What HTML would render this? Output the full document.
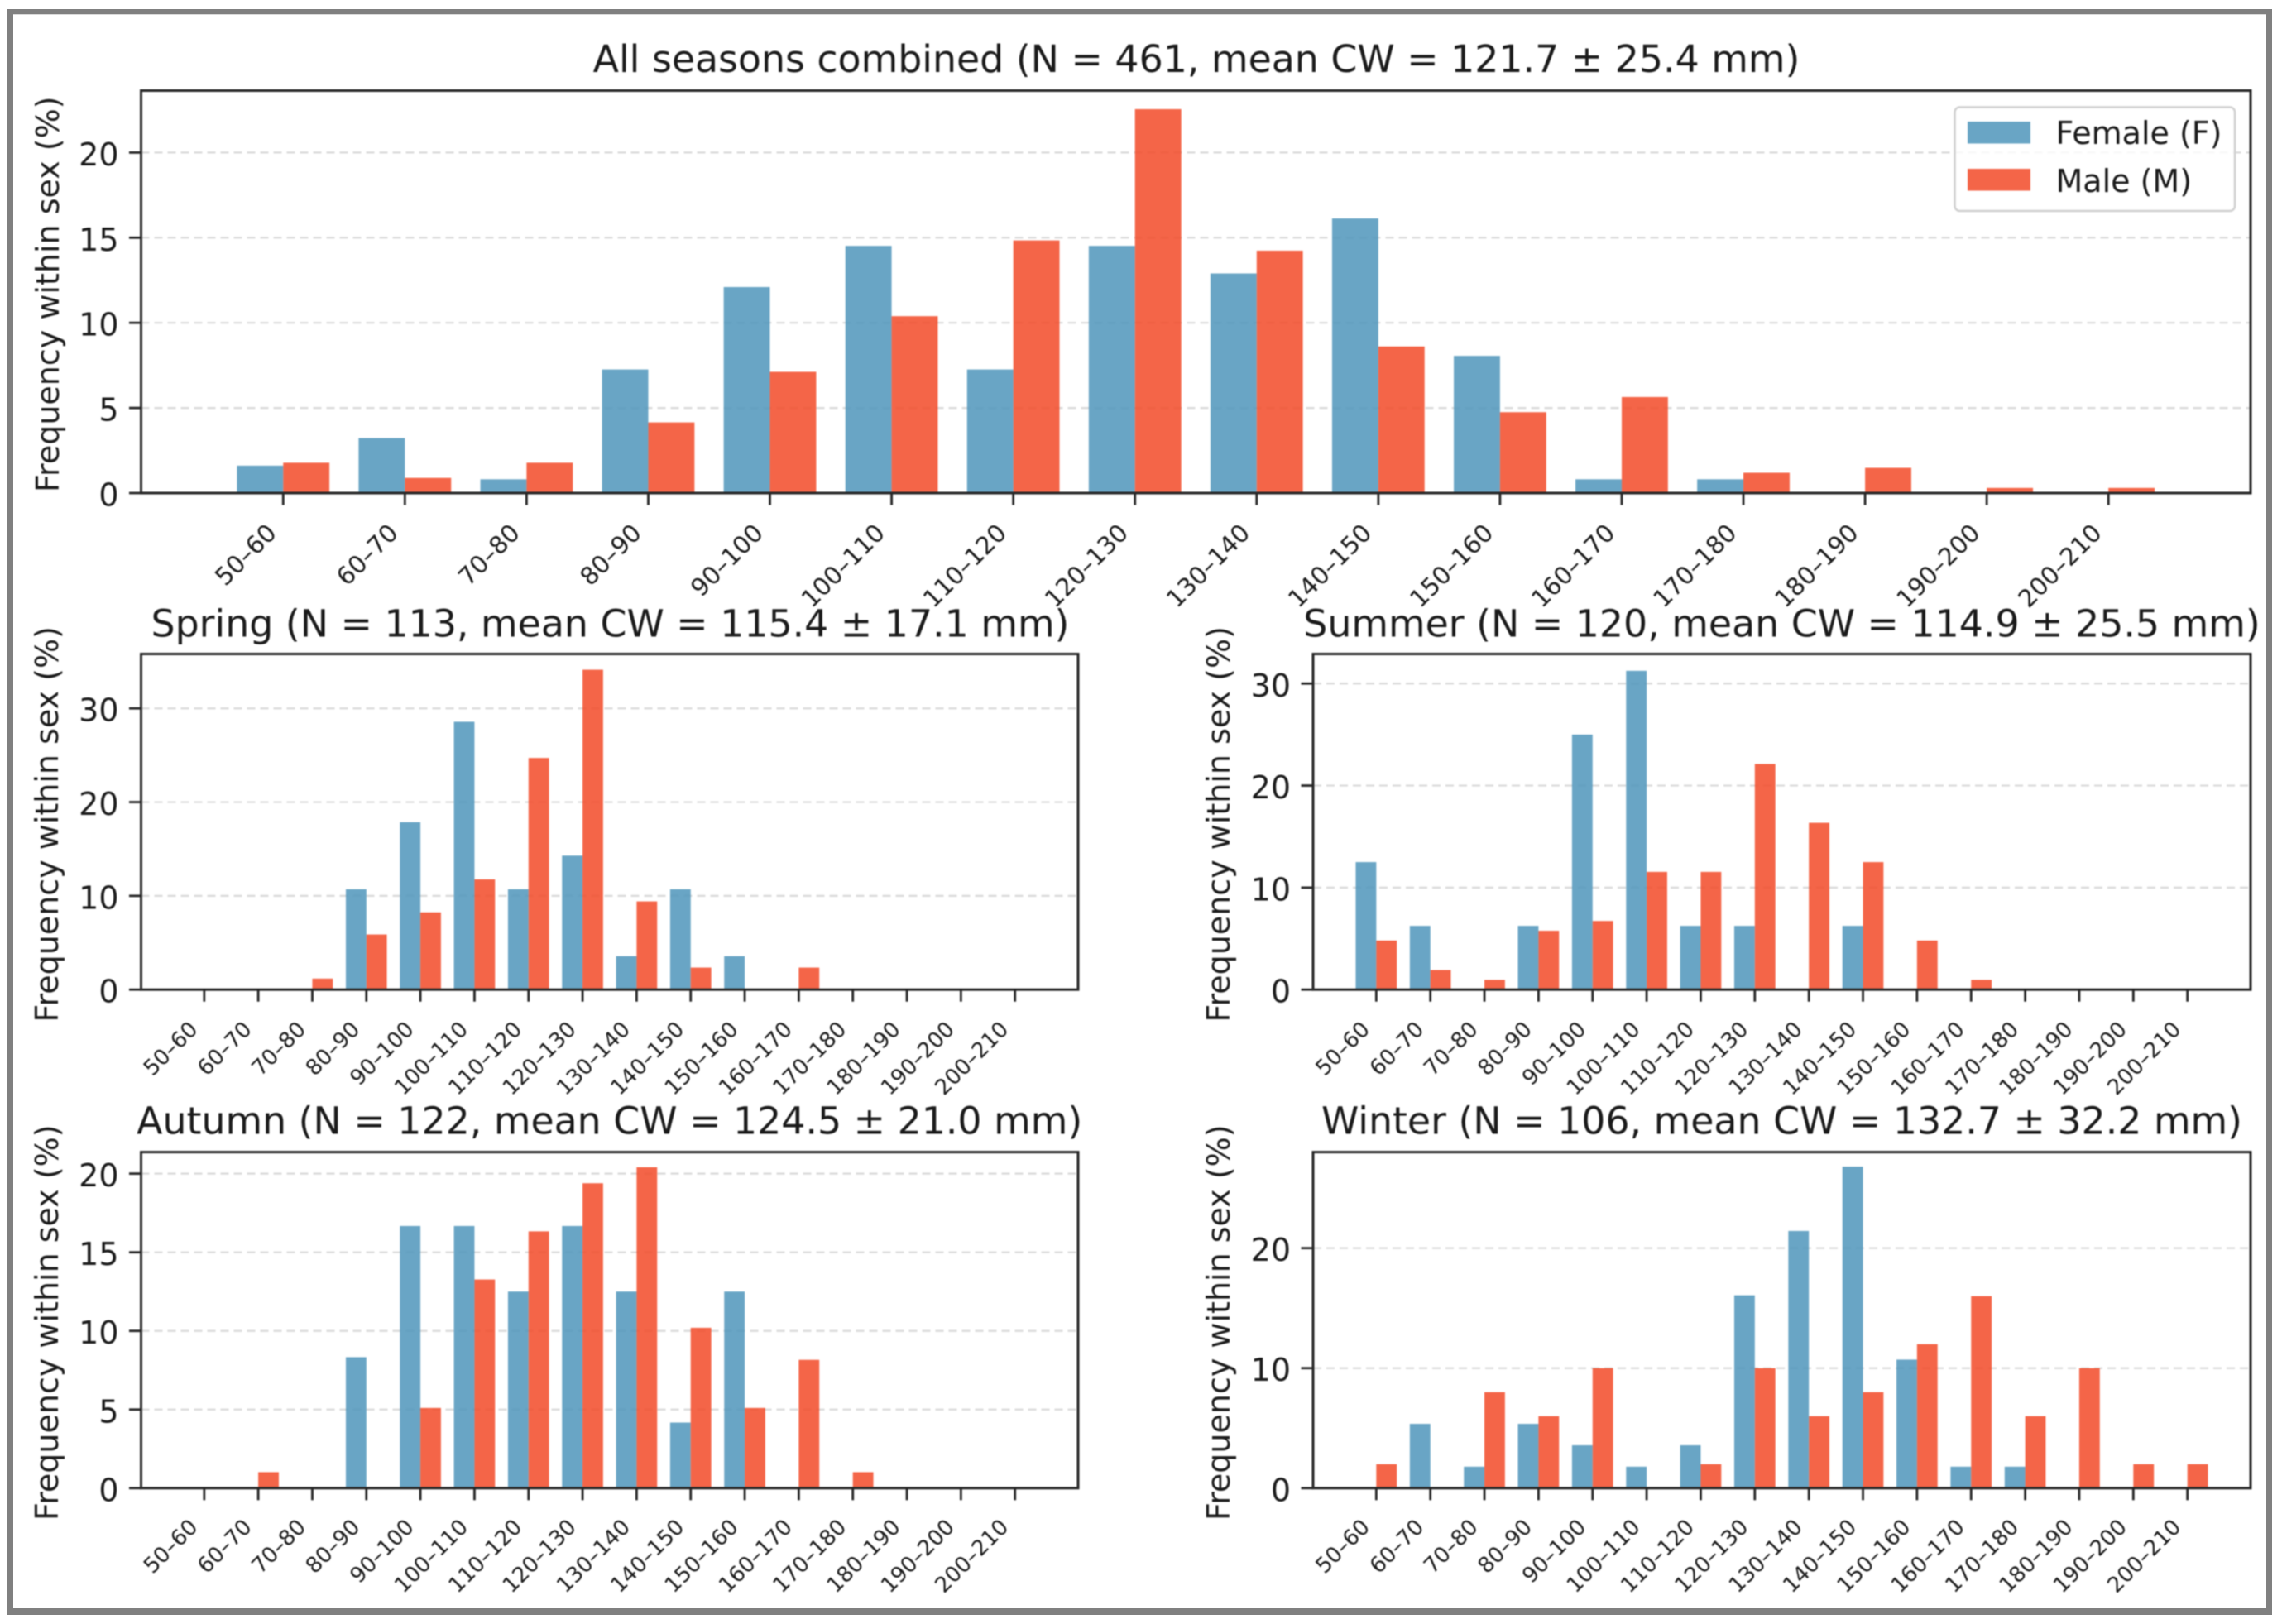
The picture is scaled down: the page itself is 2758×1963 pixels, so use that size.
<!DOCTYPE html>
<html lang="en">
<head>
<meta charset="utf-8">
<title>Carapace width frequency by sex and season</title>
<style>
  html, body { margin: 0; padding: 0; background: #ffffff; }
  #chart { display: block; width: 2758px; height: 1963px; }
  #plot { filter: blur(0.7px); }
  text { font-family: "DejaVu Sans", "Liberation Sans", sans-serif; fill: #1a1a1a; }
</style>
</head>
<body>
<svg id="chart" xmlns="http://www.w3.org/2000/svg" width="2758" height="1963" viewBox="0 0 2758 1963">
  <rect x="0" y="0" width="2758" height="1963" fill="#ffffff"/>
  <g fill="#808080">
    <rect x="9" y="11" width="7" height="941"/>
    <rect x="9" y="952" width="7" height="1000"/>
    <rect x="9" y="11" width="2737" height="6.3"/>
    <rect x="2739" y="11" width="7" height="1941"/>
    <rect x="9" y="1944" width="2737" height="8"/>
  </g>
  <g id="plot"></g>
</svg>
<script>
const categories = ['50–60','60–70','70–80','80–90','90–100','100–110','110–120','120–130','130–140','140–150','150–160','160–170','170–180','180–190','190–200','200–210'];

const femaleAll = [1.61,3.23,0.81,7.26,12.1,14.52,7.26,14.52,12.9,16.13,8.06,0.81,0.81,0,0,0];
const maleAll = [1.78,0.89,1.78,4.15,7.12,10.39,14.84,22.55,14.24,8.61,4.75,5.64,1.19,1.48,0.3,0.3];
const femaleSpring = [0,0,0,10.71,17.86,28.57,10.71,14.29,3.57,10.71,3.57,0,0,0,0,0];
const maleSpring = [0,0,1.18,5.88,8.24,11.76,24.71,34.12,9.41,2.35,0,2.35,0,0,0,0];
const femaleSummer = [12.5,6.25,0,6.25,25,31.25,6.25,6.25,0,6.25,0,0,0,0,0,0];
const maleSummer = [4.81,1.92,0.96,5.77,6.73,11.54,11.54,22.12,16.35,12.5,4.81,0.96,0,0,0,0];
const femaleAutumn = [0,0,0,8.33,16.67,16.67,12.5,16.67,12.5,4.17,12.5,0,0,0,0,0];
const maleAutumn = [0,1.02,0,0,5.1,13.27,16.33,19.39,20.41,10.2,5.1,8.16,1.02,0,0,0];
const femaleWinter = [0,5.36,1.79,5.36,3.57,1.79,3.57,16.07,21.43,26.79,10.71,1.79,1.79,0,0,0];
const maleWinter = [2,0,8,6,10,0,2,10,6,8,12,16,6,10,2,2];

const yTicksAll = [0,5,10,15,20];
const yTicksSpring = [0,10,20,30];
const yTicksSummer = [0,10,20,30];
const yTicksAutumn = [0,5,10,15,20];
const yTicksWinter = [0,10,20];

const titleAll = 'All seasons combined (N = 461, mean CW = 121.7 ± 25.4 mm)';
const titleSpring = 'Spring (N = 113, mean CW = 115.4 ± 17.1 mm)';
const titleSummer = 'Summer (N = 120, mean CW = 114.9 ± 25.5 mm)';
const titleAutumn = 'Autumn (N = 122, mean CW = 124.5 ± 21.0 mm)';
const titleWinter = 'Winter (N = 106, mean CW = 132.7 ± 32.2 mm)';
const yAxisTitle = 'Frequency within sex (%)';
const legendLabels = ['Female (F)', 'Male (M)'];

const SVG_NS = 'http://www.w3.org/2000/svg';
const plot = document.getElementById('plot');
const FEMALE = '#4F95BB';
const MALE = '#F24A28';
const BAR_ALPHA = 0.85;
const BAR_WIDTH = 0.38;
const X_MIN = -1.168;
const X_MAX = 16.168;
const INK = '#262626';

function make(tag, attrs, parent) {
  const node = document.createElementNS(SVG_NS, tag);
  for (const key in attrs) node.setAttribute(key, attrs[key]);
  parent.appendChild(node);
  return node;
}

function drawPanel(cfg) {
  const xScale = function (v) { return cfg.left + (v - X_MIN) / (X_MAX - X_MIN) * (cfg.right - cfg.left); };
  const yScale = function (v) { return cfg.bottom - v / cfg.yMax * (cfg.bottom - cfg.top); };

  const g = make('g', {}, plot);
  
  

  cfg.yTicks.forEach(function (t) {
    if (t === 0) return;
    const grid = make('line', { x1: cfg.left, x2: cfg.right, y1: yScale(t), y2: yScale(t), stroke: '#d9d9d9', 'stroke-width': 2.2, 'stroke-dasharray': '10 6' }, g);
    
    
  });

  cfg.female.forEach(function (v, i) {
    const bar = make('rect', { x: xScale(i - BAR_WIDTH), y: yScale(v), width: xScale(i) - xScale(i - BAR_WIDTH), height: yScale(0) - yScale(v), fill: FEMALE, 'fill-opacity': BAR_ALPHA }, g);
    
    
  });
  cfg.male.forEach(function (v, i) {
    const bar = make('rect', { x: xScale(i), y: yScale(v), width: xScale(i + BAR_WIDTH) - xScale(i), height: yScale(0) - yScale(v), fill: MALE, 'fill-opacity': BAR_ALPHA }, g);
    
    
  });

  const spine = make('rect', { x: cfg.left, y: cfg.top, width: cfg.right - cfg.left, height: cfg.bottom - cfg.top, fill: 'none', stroke: INK, 'stroke-width': 3 }, g);
  
  

  cfg.yTicks.forEach(function (t) {
    const mark = make('line', { x1: cfg.left - 14.5, x2: cfg.left, y1: yScale(t), y2: yScale(t), stroke: INK, 'stroke-width': 2.8 }, g);
    
    
    const label = make('text', { x: cfg.left - 27, y: yScale(t) + 15.5, 'text-anchor': 'end', 'font-size': 38 }, g);
    label.textContent = String(t);
    
    
  });

  categories.forEach(function (c, i) {
    const tx = xScale(i);
    const mark = make('line', { x1: tx, x2: tx, y1: cfg.bottom, y2: cfg.bottom + 14.5, stroke: INK, 'stroke-width': 2.8 }, g);
    
    
    const px = tx - 6.5;
    const py = cfg.bottom + cfg.xLabelDrop;
    const label = make('text', { x: px, y: py, 'text-anchor': 'end', 'font-size': cfg.xFont, transform: 'rotate(-45 ' + px + ' ' + py + ')' }, g);
    label.textContent = c;
    
    
  });

  const title = make('text', { x: cfg.titleX, y: cfg.titleY, 'text-anchor': 'middle', 'font-size': 45.8 }, g);
  title.textContent = cfg.title;
  
  

  const yMid = (cfg.top + cfg.bottom) / 2 + 3;
  const yTitle = make('text', { x: cfg.yLabelX, y: yMid, 'text-anchor': 'middle', 'font-size': 38, transform: 'rotate(-90 ' + cfg.yLabelX + ' ' + yMid + ')' }, g);
  yTitle.textContent = yAxisTitle;
  
  
}

drawPanel({ key: 'all', title: titleAll, female: femaleAll, male: maleAll, yTicks: yTicksAll, yMax: 23.64, left: 170.5, right: 2720, top: 109.5, bottom: 596, xFont: 29.5, xLabelDrop: 50, titleX: 1446, titleY: 87, yLabelX: 71 });
drawPanel({ key: 'spring', title: titleSpring, female: femaleSpring, male: maleSpring, yTicks: yTicksSpring, yMax: 35.8, left: 170.5, right: 1303, top: 790.5, bottom: 1196.2, xFont: 26, xLabelDrop: 49.5, titleX: 737.5, titleY: 769.5, yLabelX: 70 });
drawPanel({ key: 'summer', title: titleSummer, female: femaleSummer, male: maleSummer, yTicks: yTicksSummer, yMax: 32.9, left: 1587, right: 2720, top: 790.5, bottom: 1196.2, xFont: 26, xLabelDrop: 49.5, titleX: 2153.5, titleY: 769.5, yLabelX: 1486 });
drawPanel({ key: 'autumn', title: titleAutumn, female: femaleAutumn, male: maleAutumn, yTicks: yTicksAutumn, yMax: 21.37, left: 170.5, right: 1303, top: 1392.6, bottom: 1798.8, xFont: 26, xLabelDrop: 48.5, titleX: 736.7, titleY: 1370.5, yLabelX: 70 });
drawPanel({ key: 'winter', title: titleWinter, female: femaleWinter, male: maleWinter, yTicks: yTicksWinter, yMax: 28, left: 1587, right: 2720, top: 1392.6, bottom: 1798.8, xFont: 26, xLabelDrop: 48.5, titleX: 2153.5, titleY: 1370.5, yLabelX: 1486 });

const legend = make('g', {}, plot);



const legendBox = make('rect', { x: 2362.5, y: 129.5, width: 338.5, height: 125.5, rx: 6, ry: 6, fill: '#ffffff', 'fill-opacity': 0.8, stroke: '#d0d0d0', 'stroke-width': 2.5 }, legend);



const femaleSwatch = make('rect', { x: 2378, y: 147, width: 76, height: 26.5, fill: FEMALE, 'fill-opacity': BAR_ALPHA }, legend);



const maleSwatch = make('rect', { x: 2378, y: 204, width: 76, height: 26.5, fill: MALE, 'fill-opacity': BAR_ALPHA }, legend);



const femaleEntry = make('text', { x: 2484.5, y: 174, 'font-size': 38 }, legend);
femaleEntry.textContent = legendLabels[0];



const maleEntry = make('text', { x: 2484.5, y: 232, 'font-size': 38 }, legend);
maleEntry.textContent = legendLabels[1];


</script>
</body>
</html>
